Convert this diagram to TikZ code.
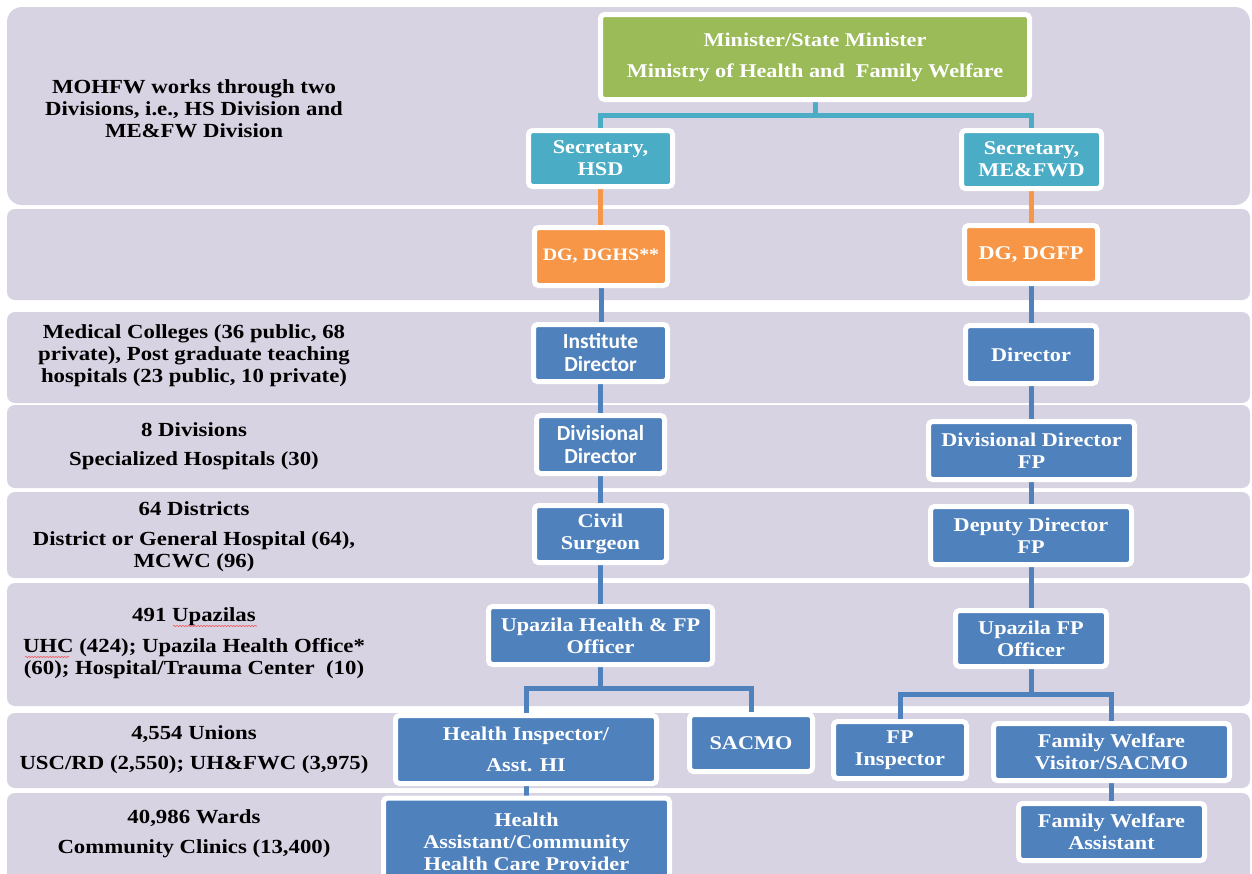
\documentclass[tikz,border=0pt]{standalone}
\usepackage{fontspec}
\setmainfont{Liberation Serif}[FakeStretch=1.14]
\newfontfamily\calib{Carlito}
\usetikzlibrary{decorations.pathmorphing}
\definecolor{bandc}{RGB}{216,211,226}
\definecolor{greenc}{RGB}{155,187,89}
\definecolor{tealc}{RGB}{75,172,198}
\definecolor{orangec}{RGB}{247,150,70}
\definecolor{bluec}{RGB}{79,129,189}
\pgfdeclarelayer{bg}
\pgfdeclarelayer{lines}
\pgfsetlayers{bg,lines,main}
\begin{document}
\begin{tikzpicture}[x=1pt,y=-1pt,
  band/.style={fill=bandc, draw=none},
  lbl/.style={font=\fontsize{20}{22}\selectfont\bfseries, align=center, text=black, inner sep=0pt},
  box/.style={draw=white, line width=5pt, rounded corners=4pt, inner sep=0pt, align=center, text=white, font=\fontsize{19.5}{22}\selectfont\bfseries},
  gbox/.style={box, fill=greenc},
  tbox/.style={box, fill=tealc},
  obox/.style={box, fill=orangec},
  bbox/.style={box, fill=bluec},
  cbox/.style={bbox, font=\fontsize{21.5}{23}\selectfont\calib\bfseries},
  conn/.style={line width=5pt},
  tconn/.style={conn, draw=tealc},
  oconn/.style={conn, draw=orangec},
  bconn/.style={conn, draw=bluec},
  squig/.style={draw=red!75, line width=0.6pt, decorate, decoration={snake, amplitude=0.5pt, segment length=3pt}}
]
\useasboundingbox (0,0) rectangle (1252,873);
\clip (0,0) rectangle (1252,873);
\begin{pgfonlayer}{bg}
\fill[white] (0,0) rectangle (1252,873);
\fill[band, rounded corners=15pt] (7,7) rectangle (1250,205);
\fill[band, rounded corners=8pt] (7,209) rectangle (1250,300);
\fill[band, rounded corners=8pt] (7,312) rectangle (1250,403);
\fill[band, rounded corners=8pt] (7,405) rectangle (1250,488);
\fill[band, rounded corners=8pt] (7,492) rectangle (1250,578);
\fill[band, rounded corners=8pt] (7,583) rectangle (1250,706);
\fill[band, rounded corners=8pt] (7,713) rectangle (1250,788);
\fill[band, rounded corners=8pt] (7,793) rectangle (1250,895);
\end{pgfonlayer}

% left labels
\node[lbl] (l1) at (194,108.5) {MOHFW works through two\\Divisions, i.e., HS Division and\\ME\&FW Division};
\node[lbl] (l3) at (194,356) {Medical Colleges (36 public, 68\\private), Post graduate teaching\\hospitals (23 public, 10 private)};
\node[lbl] (l4a) at (194,430) {8 Divisions};
\node[lbl] (l4b) at (194,461) {Specialized Hospitals (30)};
\node[lbl] (l5a) at (194,509) {64 Districts};
\node[lbl] (l5b) at (194,551.5) {District or General Hospital (64),\\MCWC (96)};
\node[lbl] (l6a) at (194,617) {491 Upazilas};
\node[lbl] (l6b) at (194,659) {UHC (424); Upazila Health Office*\\(60); Hospital/Trauma Center\ \ (10)};
\node[lbl] (l7a) at (194,734) {4,554 Unions};
\node[lbl] (l7b) at (194,765) {USC/RD (2,550); UH\&FWC (3,975)};
\node[lbl] (l8a) at (194,818) {40,986 Wards};
\node[lbl] (l8b) at (194,849) {Community Clinics (13,400)};
\draw[squig] (173,626) -- (257,626);
\draw[squig] (25,657) -- (69,657);

% boxes
\node[gbox, minimum width=429, minimum height=85] (min) at (815,57) {Minister/State Minister\\[9pt]Ministry of Health and\ \ Family Welfare};
\node[tbox, minimum width=144, minimum height=56] (sechsd) at (600.5,158.5) {Secretary,\\HSD};
\node[tbox, minimum width=140, minimum height=58] (secfw) at (1031.5,159.5) {Secretary,\\ME\&FWD};
\node[obox, minimum width=133, minimum height=58, font=\fontsize{17.5}{22}\selectfont\bfseries] (dghs) at (601,256.5) {DG, DGHS**};
\node[obox, minimum width=133, minimum height=58] (dgfp) at (1031,254.5) {DG, DGFP};
\node[cbox, minimum width=134, minimum height=57] (instdir) at (600.5,353) {Institute\\Director};
\node[cbox, minimum width=128, minimum height=58] (divdir) at (600.5,444.5) {Divisional\\Director};
\node[bbox, minimum width=132, minimum height=57] (civil) at (600.5,534) {Civil\\Surgeon};
\node[bbox, minimum width=131, minimum height=58] (dir) at (1031,354.5) {Director};
\node[bbox, minimum width=206, minimum height=58] (divdirfp) at (1031.5,450.5) {Divisional Director\\FP};
\node[bbox, minimum width=201, minimum height=58] (depdir) at (1031,535.5) {Deputy Director\\FP};
\node[bbox, minimum width=224, minimum height=58] (uhfpo) at (600.5,635.5) {Upazila Health \& FP\\Officer};
\node[bbox, minimum width=151, minimum height=56] (ufpo) at (1031,638.5) {Upazila FP\\Officer};
\node[bbox, minimum width=261, minimum height=68] (hi) at (526,749.5) {Health Inspector/\\[9pt]Asst. HI};
\node[bbox, minimum width=123, minimum height=57] (sacmo) at (751,743) {SACMO};
\node[bbox, minimum width=133, minimum height=57] (fpi) at (900,750) {FP\\Inspector};
\node[bbox, minimum width=236, minimum height=57] (fwv) at (1111.5,752) {Family Welfare\\Visitor/SACMO};
\node[bbox, minimum width=286, minimum height=88] (ha) at (526.5,842) {Health\\Assistant/Community\\Health Care Provider};
\node[bbox, minimum width=186, minimum height=57] (fwa) at (1111.5,832) {Family Welfare\\Assistant};

% connectors
\begin{pgfonlayer}{lines}
\draw[tconn] (min.south) -- ++(0,13) -| (sechsd.north);
\draw[tconn] (min.south) -- ++(0,13) -| (secfw.north);
\draw[oconn] (sechsd.south) -- (sechsd.south |- dghs.north);
\draw[oconn] (secfw.south) -- (secfw.south |- dgfp.north);
\draw[bconn] (dghs.south) -- (dghs.south |- instdir.north);
\draw[bconn] (instdir.south) -- (instdir.south |- divdir.north);
\draw[bconn] (divdir.south) -- (divdir.south |- civil.north);
\draw[bconn] (civil.south) -- (civil.south |- uhfpo.north);
\draw[bconn] (dgfp.south) -- (dgfp.south |- dir.north);
\draw[bconn] (dir.south) -- (dir.south |- divdirfp.north);
\draw[bconn] (divdirfp.south) -- (divdirfp.south |- depdir.north);
\draw[bconn] (depdir.south) -- (depdir.south |- ufpo.north);
\draw[bconn] (uhfpo.south) -- ++(0,21) -| (hi.north);
\draw[bconn] (uhfpo.south) -- ++(0,21) -| (sacmo.north);
\draw[bconn] (ufpo.south) -- ++(0,25) -| (fpi.north);
\draw[bconn] (ufpo.south) -- ++(0,25) -| (fwv.north);
\draw[bconn] (hi.south) -- (hi.south |- ha.north);
\draw[bconn] (fwv.south) -- (fwv.south |- fwa.north);
\end{pgfonlayer}
\end{tikzpicture}
\end{document}
